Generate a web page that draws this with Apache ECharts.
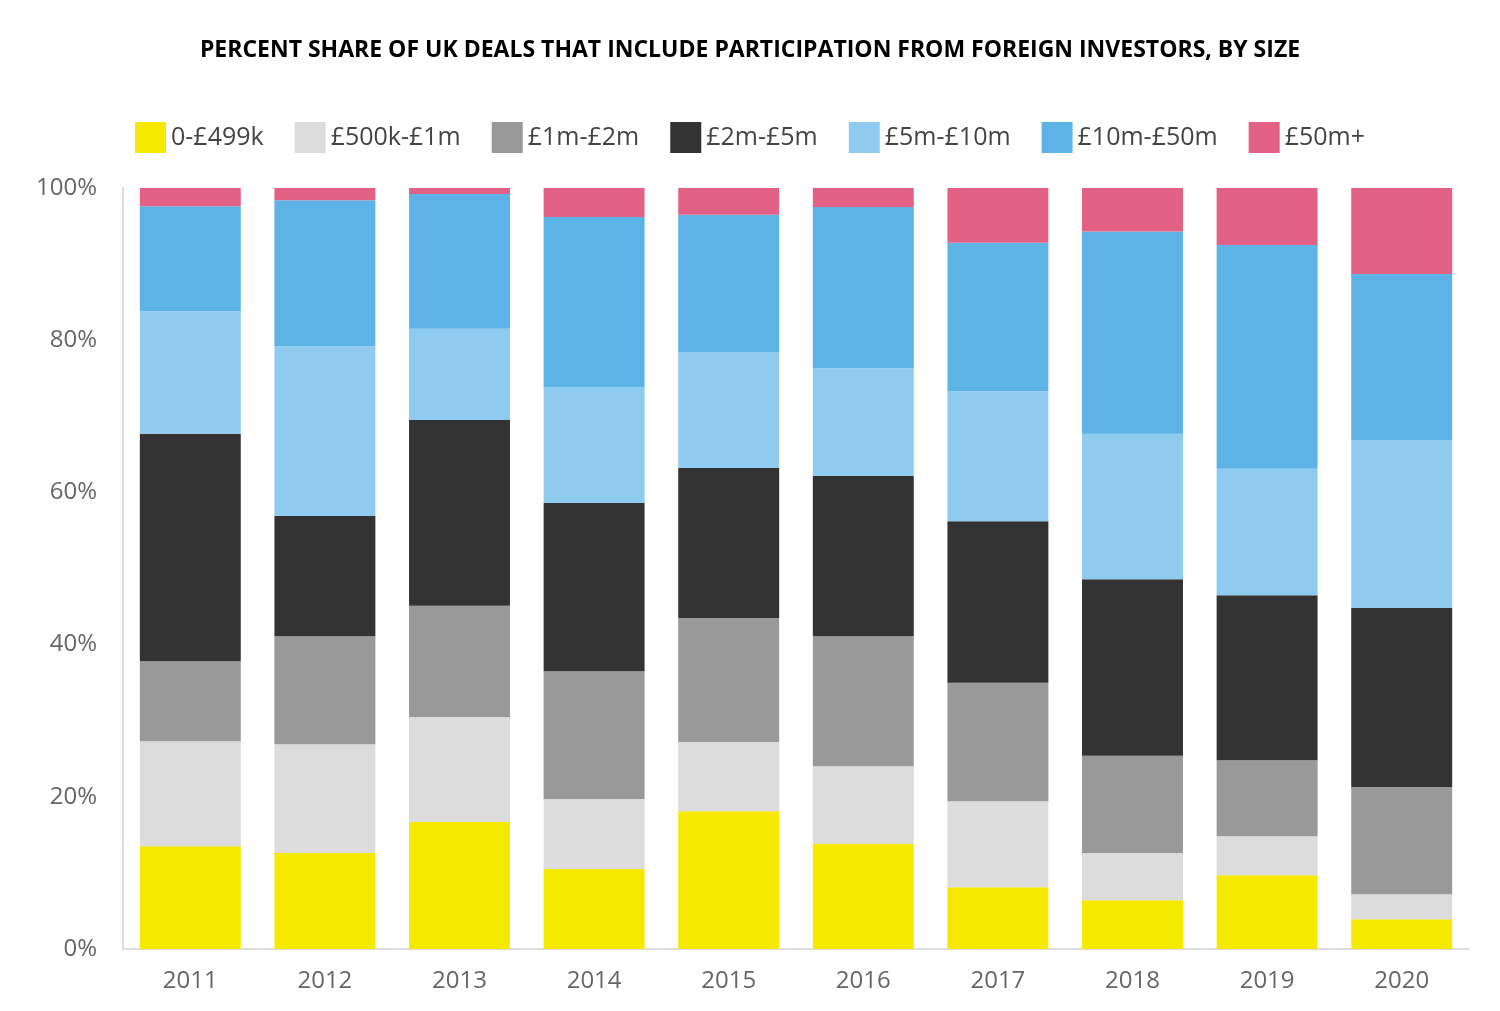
<!DOCTYPE html>
<html>
<head>
<meta charset="utf-8">
<script src="https://cdn.jsdelivr.net/npm/echarts@6/dist/echarts.min.js"></script>
<style>html,body{margin:0;padding:0;background:#fff}#chart{width:1500px;height:1011px}</style>
</head>
<body>
<div id="chart"></div>
<script>
var years = ['2011','2012','2013','2014','2015','2016','2017','2018','2019','2020']
var seriesNames = ['0-£499k','£500k-£1m','£1m-£2m','£2m-£5m','£5m-£10m','£10m-£50m','£50m+']
var colors = ['#f5e900','#dcdcdc','#999999','#333333','#8ecbef','#5db3e6','#e26185']
var s0 = [13.5,12.6,16.7,10.5,18.1,13.8,8.1,6.4,9.7,3.9]
var s1 = [13.8,14.3,13.8,9.2,9.1,10.2,11.3,6.2,5.1,3.3]
var s2 = [10.5,14.2,14.6,16.8,16.3,17.1,15.6,12.8,10.0,14.1]
var s3 = [29.9,15.8,24.4,22.1,19.7,21.1,21.2,23.2,21.7,23.5]
var s4 = [16.1,22.3,12.0,15.2,15.2,14.1,17.1,19.1,16.6,22.1]
var s5 = [13.8,19.2,17.7,22.4,18.1,21.2,19.5,26.6,29.4,21.8]
var s6 = [2.4,1.6,0.8,3.8,3.5,2.5,7.2,5.7,7.5,11.3]
var values = [s0,s1,s2,s3,s4,s5,s6]

var series = values.map(function (v, i) {
    return {
        name: seriesNames[i],
        type: 'bar',
        stack: 'total',
        barWidth: '75%',
        itemStyle: { color: colors[i] },
        data: v
    }
})

var chart = echarts.init(document.getElementById('chart'))
chart.setOption({
    animation: false,
    title: {
        text: 'PERCENT SHARE OF UK DEALS THAT INCLUDE PARTICIPATION FROM FOREIGN INVESTORS, BY SIZE',
        left: 'center',
        top: 34,
        textStyle: { color: '#000', fontSize: 23, fontWeight: 'bold', fontFamily: 'Open Sans' }
    },
    legend: {
        top: 117,
        left: 'center',
        itemWidth: 31,
        itemHeight: 31,
        itemGap: 31,
        icon: 'rect',
        textStyle: { color: '#444', fontSize: 25, fontFamily: 'Open Sans' },
        data: seriesNames
    },
    grid: { left: 123, right: 31, top: 188, bottom: 62 },
    xAxis: {
        type: 'category',
        data: years,
        axisLine: { lineStyle: { color: '#ddd', width: 2 } },
        axisTick: { show: false },
        axisLabel: { color: '#666', fontSize: 24, margin: 20, fontFamily: 'Open Sans' }
    },
    yAxis: {
        type: 'value',
        min: 0,
        max: 100,
        interval: 20,
        axisLine: { show: true, lineStyle: { color: '#ddd', width: 2 } },
        splitLine: { show: false },
        axisTick: { show: false },
        axisLabel: { color: '#666', fontSize: 24, margin: 26, formatter: '{value}%', fontFamily: 'Open Sans' }
    },
    series: series
})
</script>
</body>
</html>
